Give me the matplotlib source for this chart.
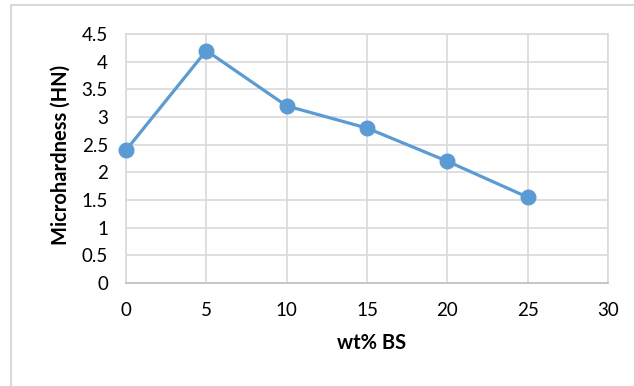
import matplotlib.pyplot as plt
from matplotlib.patches import Rectangle

wt_bs = [0, 5, 10, 15, 20, 25]
hardness = [2.4, 4.2, 3.2, 2.8, 2.2, 1.55]
x_ticks = [0, 5, 10, 15, 20, 25, 30]
y_ticks = [0, 0.5, 1, 1.5, 2, 2.5, 3, 3.5, 4, 4.5]

plt.rcParams['font.family'] = ['Lato', 'DejaVu Sans']

fig = plt.figure(figsize=(6.34, 3.86), dpi=100)
ax = fig.add_axes([126 / 634, 1 - 283 / 386, (608 - 126) / 634, (283 - 34) / 386])

# outer chart border (only top and left visible in the original)
fig.patches.append(Rectangle((11 / 634, -0.1), 1.0, 1 - 5 / 386 + 0.1,
                             transform=fig.transFigure, fill=False,
                             edgecolor='#D9D9D9', linewidth=1.5))

ax.plot(wt_bs, hardness, color='#5B9BD5', linewidth=2.3, marker='o',
        markersize=10.5, zorder=3, clip_on=False)

ax.set_xlim(0, 30)
ax.set_ylim(0, 4.5)
ax.set_xticks(x_ticks)
ax.set_xticklabels([str(v) for v in x_ticks])
ax.set_yticks(y_ticks)
ax.set_yticklabels([f'{v:g}' for v in y_ticks])
ax.grid(True, color='#D9D9D9', linewidth=1.2)
ax.set_axisbelow(True)
for s in ax.spines.values():
    s.set_color('#D9D9D9')
    s.set_linewidth(1.2)
ax.spines['bottom'].set_color('#BFBFBF')
ax.tick_params(length=0, labelsize=13.5, colors='black')
ax.tick_params(axis='x', pad=14)
ax.tick_params(axis='y', pad=13)

ax.set_xlabel('wt% BS', fontsize=14.5, fontweight='bold', va='center')
ax.xaxis.set_label_coords(0.51, (283 - 343) / 249)
ax.set_ylabel('Microhardness (HN)', fontsize=14.5, fontweight='bold', va='center')
ax.yaxis.set_label_coords((61 - 126) / 482, 0.5 + (162 - 158.5) / 249)

fig.savefig('out.png', dpi=100)
